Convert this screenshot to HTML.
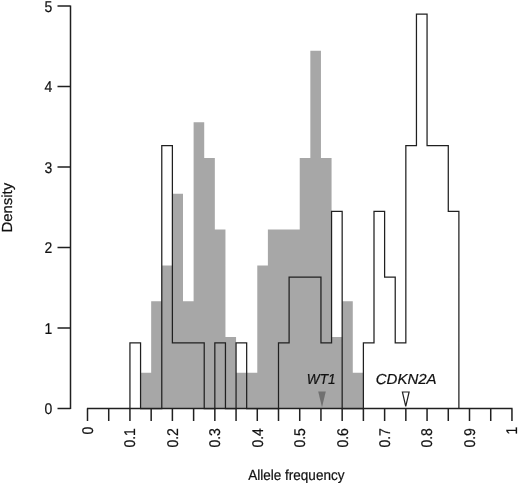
<!DOCTYPE html>
<html lang="en">
<head>
<meta charset="utf-8">
<title>Allele frequency density</title>
<style>
html,body{margin:0;padding:0;background:#fff;}
body{width:520px;height:483px;overflow:hidden;}
svg{display:block;}
</style>
</head>
<body>
<svg width="520" height="483" viewBox="0 0 520 483">
<rect width="520" height="483" fill="#fff"/>
<polygon fill="#a7a7a7" points="140.56,408.50 140.56,408.50 140.56,372.72 151.17,372.72 151.17,301.17 161.78,301.17 161.78,265.39 172.39,265.39 172.39,193.83 183.00,193.83 183.00,301.17 193.61,301.17 193.61,122.28 204.22,122.28 204.22,158.06 214.83,158.06 214.83,229.61 225.45,229.61 225.45,336.94 236.06,336.94 236.06,372.72 257.28,372.72 257.28,265.39 267.89,265.39 267.89,229.61 299.73,229.61 299.73,158.06 310.34,158.06 310.34,50.72 320.95,50.72 320.95,158.06 331.56,158.06 331.56,336.94 342.17,336.94 342.17,301.17 352.78,301.17 352.78,372.72 363.39,372.72 363.39,408.50"/>
<polyline fill="none" stroke="#202020" stroke-width="1.25" stroke-linejoin="miter" points="129.94,408.50 129.94,408.50 129.94,342.79 140.56,342.79 140.56,408.50 161.78,408.50 161.78,145.64 172.39,145.64 172.39,342.79 204.22,342.79 204.22,408.50 214.83,408.50 214.83,342.79 225.45,342.79 225.45,408.50 236.06,408.50 236.06,342.79 246.67,342.79 246.67,408.50 278.50,408.50 278.50,342.79 289.11,342.79 289.11,277.07 320.95,277.07 320.95,342.79 331.56,342.79 331.56,211.36 342.17,211.36 342.17,408.50 363.39,408.50 363.39,342.79 374.00,342.79 374.00,211.36 384.61,211.36 384.61,277.07 395.23,277.07 395.23,342.79 405.84,342.79 405.84,145.64 416.45,145.64 416.45,14.21 427.06,14.21 427.06,145.64 448.28,145.64 448.28,211.36 458.89,211.36 458.89,408.50"/>
<path stroke="#202020" stroke-width="1.5" fill="none" d="M70.5,5.40 V409.10 M57.5,408.50 H70.5 M57.5,328.00 H70.5 M57.5,247.50 H70.5 M57.5,167.00 H70.5 M57.5,86.50 H70.5 M57.5,6.00 H70.5"/>
<path stroke="#202020" stroke-width="1.5" fill="none" d="M86.90,408.50 H512.55 M87.50,408.50 V421 M108.72,408.50 V421 M129.94,408.50 V421 M151.17,408.50 V421 M172.39,408.50 V421 M193.61,408.50 V421 M214.84,408.50 V421 M236.06,408.50 V421 M257.28,408.50 V421 M278.50,408.50 V421 M299.73,408.50 V421 M320.95,408.50 V421 M342.17,408.50 V421 M363.39,408.50 V421 M384.62,408.50 V421 M405.84,408.50 V421 M427.06,408.50 V421 M448.28,408.50 V421 M469.50,408.50 V421 M490.73,408.50 V421 M511.95,408.50 V421"/>
<g font-family="'Liberation Sans', Arial, Helvetica, sans-serif" font-size="15" fill="#111" stroke="#111" stroke-width="0.22" style="text-rendering:geometricPrecision">
<text transform="translate(44.4,414.25) scale(0.9,1)" font-size="15.5">0</text>
<text transform="translate(44.4,333.75) scale(0.9,1)" font-size="15.5">1</text>
<text transform="translate(44.4,253.25) scale(0.9,1)" font-size="15.5">2</text>
<text transform="translate(44.4,172.75) scale(0.9,1)" font-size="15.5">3</text>
<text transform="translate(44.4,92.25) scale(0.9,1)" font-size="15.5">4</text>
<text transform="translate(44.4,11.75) scale(0.9,1)" font-size="15.5">5</text>
<text transform="translate(92.90,434.5) rotate(-90) scale(0.9,1)" font-size="15.5">0</text>
<text transform="translate(135.34,447.6) rotate(-90) scale(0.9,1)" font-size="15.5">0.1</text>
<text transform="translate(177.79,447.6) rotate(-90) scale(0.9,1)" font-size="15.5">0.2</text>
<text transform="translate(220.24,447.6) rotate(-90) scale(0.9,1)" font-size="15.5">0.3</text>
<text transform="translate(262.68,447.6) rotate(-90) scale(0.9,1)" font-size="15.5">0.4</text>
<text transform="translate(305.12,447.6) rotate(-90) scale(0.9,1)" font-size="15.5">0.5</text>
<text transform="translate(347.57,447.6) rotate(-90) scale(0.9,1)" font-size="15.5">0.6</text>
<text transform="translate(390.01,447.6) rotate(-90) scale(0.9,1)" font-size="15.5">0.7</text>
<text transform="translate(432.46,447.6) rotate(-90) scale(0.9,1)" font-size="15.5">0.8</text>
<text transform="translate(474.90,447.6) rotate(-90) scale(0.9,1)" font-size="15.5">0.9</text>
<text transform="translate(517.35,434.5) rotate(-90) scale(0.9,1)" font-size="15.5">1</text>
<text x="248.2" y="479.5" font-size="14.6" textLength="96.3" lengthAdjust="spacingAndGlyphs">Allele frequency</text>
<text transform="translate(11.6,232.6) rotate(-90)" font-size="14.6" textLength="49.8" lengthAdjust="spacingAndGlyphs">Density</text>
<text x="306.8" y="383.9" font-style="italic" font-size="14.5" textLength="28.8" lengthAdjust="spacingAndGlyphs">WT1</text>
<text x="375.8" y="383.9" font-style="italic" font-size="14.5" textLength="60.8" lengthAdjust="spacingAndGlyphs">CDKN2A</text>
</g>
<polygon fill="#707070" points="318.2,391.5 325.8,391.5 322,407.3"/>
<polygon fill="#fff" stroke="#202020" stroke-width="1.2" points="402.4,392 409.1,392 405.75,406.3"/>
</svg>
</body>
</html>
